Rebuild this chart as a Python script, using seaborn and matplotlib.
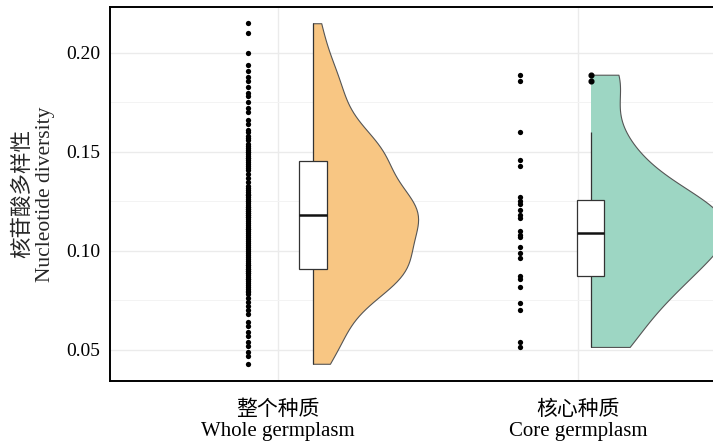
import numpy as np
import pandas as pd
import seaborn as sns
import matplotlib.pyplot as plt
from matplotlib.patches import Rectangle
from matplotlib.ticker import MultipleLocator

# Data
categories = ['整个种质\nWhole germplasm', '核心种质\nCore germplasm']

whole_vals = [
    0.215, 0.210, 0.200,
    0.194, 0.191, 0.188, 0.186, 0.183, 0.180,
    0.175, 0.172, 0.170,
    0.164, 0.161, 0.158, 0.156, 0.154,
    0.151, 0.149, 0.147, 0.145, 0.143, 0.141,
    0.137, 0.135, 0.132,
    0.130, 0.128, 0.127, 0.125, 0.124, 0.122, 0.121, 0.120, 0.119, 0.118,
    0.117, 0.117, 0.116, 0.115, 0.114, 0.113, 0.112, 0.111, 0.111, 0.110,
    0.109, 0.108, 0.107, 0.106, 0.105, 0.104, 0.103, 0.102, 0.101, 0.100,
    0.099, 0.098, 0.097, 0.096, 0.095, 0.094, 0.093, 0.092, 0.091, 0.090,
    0.089, 0.088,
    0.087, 0.086, 0.085, 0.083, 0.082, 0.080, 0.078,
    0.076, 0.074, 0.072, 0.070, 0.068,
    0.064, 0.062, 0.059, 0.057,
    0.054, 0.052, 0.049, 0.047,
    0.043,
    # overlapping dots in the dense bands
    0.118, 0.119, 0.120, 0.121, 0.122, 0.123, 0.125, 0.126, 0.128, 0.129,
    0.131, 0.133, 0.139, 0.142, 0.144, 0.146, 0.148, 0.150, 0.152,
    0.086, 0.089, 0.090, 0.091, 0.093, 0.084, 0.081, 0.079,
    0.147, 0.150, 0.153, 0.157, 0.160, 0.166, 0.178,
]

core_vals = [
    0.0515, 0.054, 0.070, 0.0737, 0.082, 0.086, 0.0875, 0.0965, 0.099, 0.102,
    0.107, 0.108, 0.110, 0.1165, 0.118, 0.1205, 0.1235, 0.125, 0.127, 0.143,
    0.146, 0.160, 0.186, 0.189,
]

fills = ['#F8C683', '#9DD6C3']

# layout positions (category index + offset)
dot_pos = [-0.10, 0.807]
box_pos = [0.117, 1.043]
box_width = [0.093, 0.09]
violin_width = [0.70, 0.90]
bw_adj = [0.85, 0.78]

sns.set_style('whitegrid')
plt.rcParams['font.family'] = ['Liberation Serif', 'Noto Sans CJK SC']

fig = plt.figure(figsize=(7.13, 4.47), dpi=100)
ax = fig.add_axes([110 / 713, 66 / 447, 603 / 713, 374 / 447])

groups = [whole_vals, core_vals]
for i, vals in enumerate(groups):
    df = pd.DataFrame({'pos': box_pos[i], 'val': vals})
    # half violin: draw full violin, clip to the right side
    n0 = len(ax.collections)
    sns.violinplot(data=df, x='pos', y='val', native_scale=True, orient='x',
                   cut=0, density_norm='width', width=violin_width[i],
                   bw_adjust=bw_adj[i], inner=None, color=fills[i],
                   linecolor='#555555', linewidth=0.8, saturation=1, ax=ax)
    for coll in ax.collections[n0:]:
        clip = Rectangle((box_pos[i], -1), 2, 3, transform=ax.transData)
        coll.set_clip_path(clip)

    # box plot
    sns.boxplot(data=df, x='pos', y='val', native_scale=True, orient='x',
                width=box_width[i], color='white', linecolor='#333333',
                linewidth=0.9, saturation=1, showcaps=False,
                medianprops={'linewidth': 1.8, 'color': '#111111'},
                flierprops={'marker': 'o', 'markerfacecolor': 'black',
                            'markeredgecolor': 'black', 'markersize': 3.4},
                ax=ax)

    # raw points
    dots = pd.DataFrame({'pos': dot_pos[i], 'val': vals})
    sns.stripplot(data=dots, x='pos', y='val', native_scale=True, orient='x',
                  jitter=False, color='black', size=3.8, linewidth=0, ax=ax)

ax.set_xlim(-0.56, 1.45)
ax.set_ylim(0.0343, 0.2232)
ax.set_xticks([0, 1])
ax.set_xticklabels(categories, fontsize=15, linespacing=1.15)
ax.yaxis.set_major_locator(MultipleLocator(0.05))
ax.yaxis.set_minor_locator(MultipleLocator(0.025))
ax.yaxis.set_major_formatter(plt.FormatStrFormatter('%.2f'))
ax.tick_params(axis='y', labelsize=14)
ax.tick_params(axis='both', which='major', direction='out', length=4,
               width=1, color='#333333', labelcolor='black')
ax.tick_params(axis='x', pad=10)
ax.tick_params(axis='y', pad=3)
ax.tick_params(axis='y', which='minor', length=0)

ax.grid(True, which='major', color='#EBEBEB', linewidth=1.0)
ax.grid(True, which='minor', axis='y', color='#F3F3F3', linewidth=0.7)
ax.set_axisbelow(True)

ax.set_xlabel('')
ax.set_ylabel('核苷酸多样性\nNucleotide diversity', fontsize=15.5, labelpad=8,
              linespacing=1.2)

for side in ['left', 'bottom', 'top']:
    ax.spines[side].set_visible(True)
    ax.spines[side].set_color('black')
    ax.spines[side].set_linewidth(1.4)
ax.spines['right'].set_visible(False)

fig.savefig('out.png', dpi=100)
